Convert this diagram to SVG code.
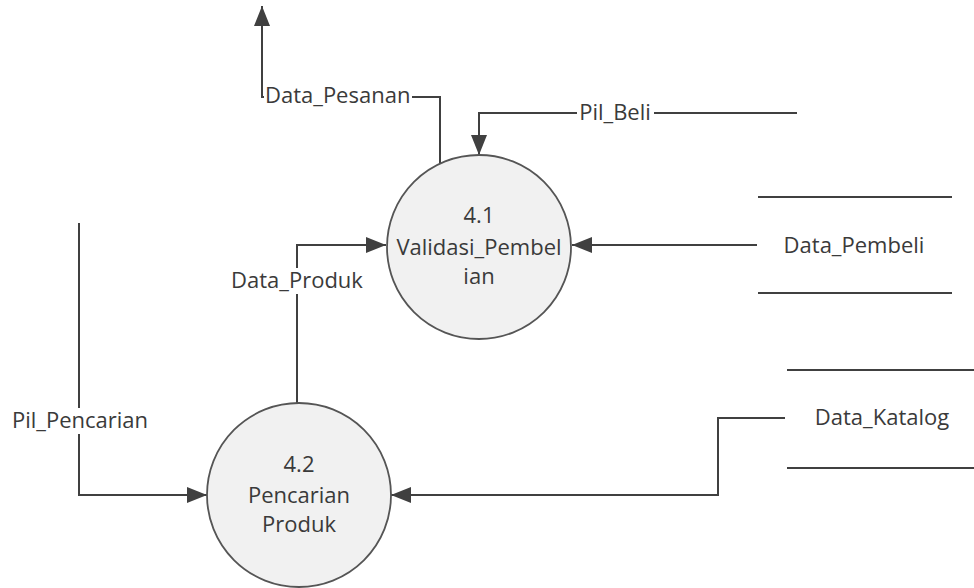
<svg xmlns="http://www.w3.org/2000/svg" width="974" height="588" viewBox="0 0 974 588">
<style>
.proc{fill:#f1f1f1;stroke:#555;stroke-width:1.8}
.flow{fill:none;stroke:#404040;stroke-width:2}
.store{stroke:#404040;stroke-width:2}
.t{font-family:"Open Sans","Liberation Sans",sans-serif;font-size:22px;fill:#3a3a3a}
.c{text-anchor:middle}
.bg{fill:#ffffff}
</style>
<defs>
<marker id="arr" markerWidth="20" markerHeight="16" refX="20" refY="8" orient="auto" markerUnits="userSpaceOnUse">
<path d="M0,0 L20,8 L0,16 Z" fill="#404040"/>
</marker>
</defs>
<rect width="974" height="588" fill="#ffffff"/>
<g id="connectors">
<path class="flow" d="M440,164 V97 H262 V6" marker-end="url(#arr)"/>
<path class="flow" d="M797,113 H479 V155" marker-end="url(#arr)"/>
<path class="flow" d="M757,245 H572" marker-end="url(#arr)"/>
<path class="flow" d="M297,403 V245 H386" marker-end="url(#arr)"/>
<path class="flow" d="M79,223 V495 H207" marker-end="url(#arr)"/>
<path class="flow" d="M785,418 H718 V495 H391" marker-end="url(#arr)"/>
<rect class="bg" x="264" y="84" width="148" height="24"/>
<text class="t" x="265" y="103">Data_Pesanan</text>
<rect class="bg" x="577" y="100" width="77" height="26"/>
<text class="t c" x="615" y="120">Pil_Beli</text>
<rect class="bg" x="228" y="268" width="137" height="26"/>
<text class="t c" x="297" y="288">Data_Produk</text>
<rect class="bg" x="10" y="408" width="140" height="26"/>
<text class="t c" x="80" y="428">Pil_Pencarian</text>
</g>
<g id="p41">
<circle class="proc" cx="479" cy="247" r="92"/>
<text class="t c" x="479" y="223">4.1</text>
<text class="t c" x="479" y="255">Validasi_Pembel</text>
<text class="t c" x="479" y="284">ian</text>
</g>
<g id="p42">
<circle class="proc" cx="299" cy="495" r="92"/>
<text class="t c" x="299" y="472">4.2</text>
<text class="t c" x="299" y="503">Pencarian</text>
<text class="t c" x="299" y="532">Produk</text>
</g>
<g id="ds_pembeli">
<line class="store" x1="758" y1="197" x2="952" y2="197"/>
<line class="store" x1="758" y1="293" x2="952" y2="293"/>
<text class="t c" x="854" y="253">Data_Pembeli</text>
</g>
<g id="ds_katalog">
<line class="store" x1="787" y1="370" x2="974" y2="370"/>
<line class="store" x1="787" y1="468" x2="974" y2="468"/>
<text class="t c" x="882" y="425">Data_Katalog</text>
</g>
</svg>
